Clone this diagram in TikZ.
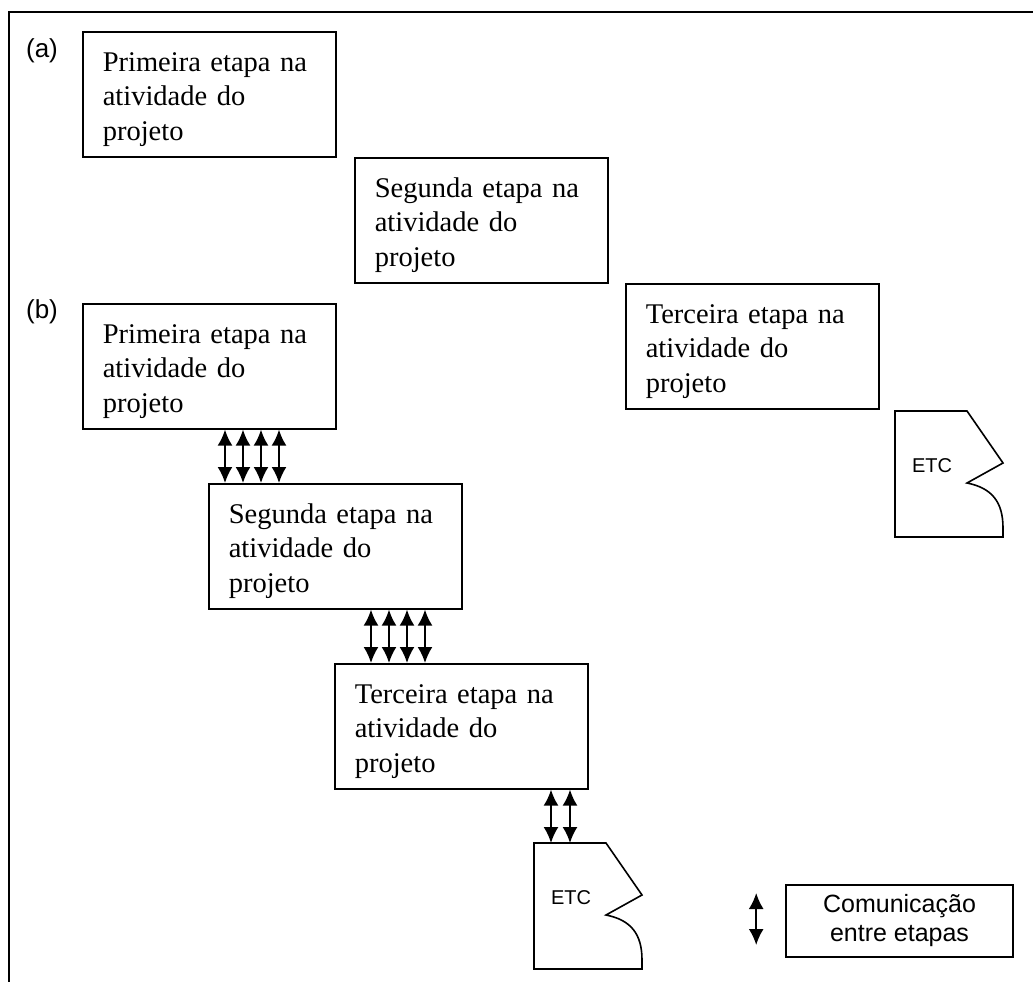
\documentclass[tikz,border=0pt]{standalone}
\usepackage{fontspec}
\setmainfont{Liberation Serif}
\newfontfamily\arialfont{Liberation Sans}
\usetikzlibrary{arrows.meta,calc}
\begin{document}
\begin{tikzpicture}[x=1pt,y=-1pt,
  stage/.style={draw, line width=1.6pt, anchor=north west,
    minimum width=253pt, minimum height=125pt, text width=213pt,
    align=left, inner sep=0pt, font=\fontsize{28.5}{34.5}\selectfont,
    execute at begin node={\rule{0pt}{29pt}}},
  comm/.style={line width=2pt,
    {Latex[length=16pt,width=15pt]}-{Latex[length=16pt,width=15pt]}},
  outline/.style={line width=1.6pt, line join=miter},
  etclabel/.style={inner sep=0pt, font=\arialfont\fontsize{20}{20}\selectfont},
  tag/.style={inner sep=0pt, font=\arialfont\fontsize{26}{26}\selectfont},
  keybox/.style={draw, line width=1.6pt, minimum width=227pt, minimum height=72pt,
    align=center, inner sep=0pt, font=\arialfont\fontsize{25}{29}\selectfont}
]
\useasboundingbox (0,0) rectangle (1033,982);
% page frame (open to the right and bottom)
\draw[line width=2.5pt] (1033,12) -- (9,12) -- (9,982);

% shape of the "ETC" continuation mark, drawn around a label node
\newcommand\etcmark[1]{%
  \draw[outline] ($(#1)+(-37,-55)$) -- ($(#1)+(35,-55)$) -- ($(#1)+(71,-3)$)
    -- ($(#1)+(35,17)$) .. controls ($(#1)+(60,22)$) and ($(#1)+(71,36)$)
    .. ($(#1)+(71,62)$) -- ($(#1)+(71,71)$) -- ($(#1)+(-37,71)$) -- cycle;}

% (a) sequential stages
\node[tag] (taga) at (42,51) {(a)};
\node[stage] (a1) at (82,31)  {Primeira etapa na\\atividade do\\projeto};
\node[stage] (a2) at (354,157) {Segunda etapa na\\atividade do\\projeto};
\node[stage] (a3) at (625,283) {Terceira etapa na\\atividade do\\projeto};
\node[etclabel] (etcA) at (932,466) {ETC};
\etcmark{etcA}

% (b) overlapping stages with communication
\node[tag] (tagb) at (42,312) {(b)};
\node[stage] (b1) at (82,303)  {Primeira etapa na\\atividade do\\projeto};
\node[stage] (b2) at (208,483) {Segunda etapa na\\atividade do\\projeto};
\node[stage] (b3) at (334,663) {Terceira etapa na\\atividade do\\projeto};
\node[etclabel] (etcB) at (571,898) {ETC};
\etcmark{etcB}
\coordinate (etcBtop) at ($(etcB)+(0,-55)$);

\foreach \dx in {17,35,53,71} {
  \path (b2.north west) ++(\dx,0) coordinate (t);
  \draw[comm] (t |- b1.south) -- (t);
}
\foreach \dx in {37,55,73,91} {
  \path (b3.north west) ++(\dx,0) coordinate (t);
  \draw[comm] (t |- b2.south) -- (t);
}
\foreach \dx in {217,236} {
  \path (b3.south west) ++(\dx,0) coordinate (t);
  \draw[comm] (t) -- (t |- etcBtop);
}

% key
\node[keybox] (key) at (899.5,921) {Comunicação\\entre etapas};
\coordinate (keyup) at ($(key.west)+(-29,-28)$);
\coordinate (keydown) at ($(key.west)+(-29,24)$);
\draw[comm] (keyup) -- (keydown);
\end{tikzpicture}
\end{document}
